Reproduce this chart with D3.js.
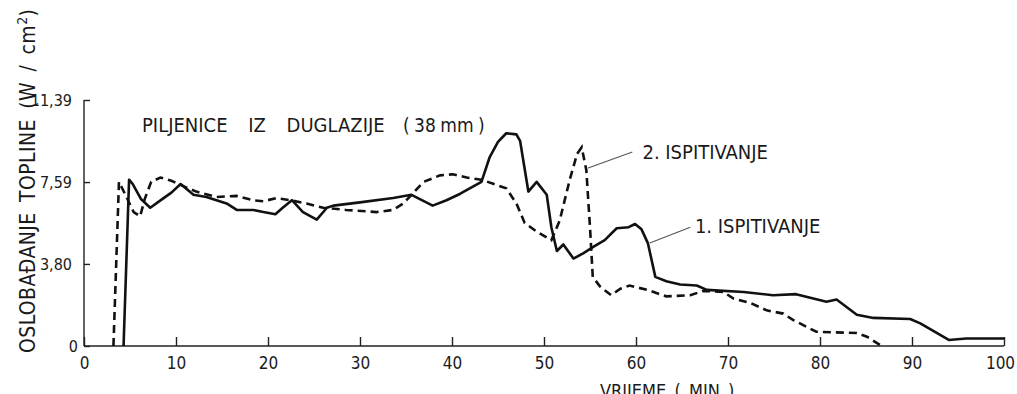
<!DOCTYPE html>
<html lang="hr">
<head>
<meta charset="UTF-8">
<title>Piljenice iz duglazije</title>
<script src="https://d3js.org/d3.v7.min.js"></script>
<style>
  body, html { margin: 0; padding: 0; background: #fff; }
  svg text {
    font-family: "DejaVu Sans Condensed", "Liberation Sans Narrow", "DejaVu Sans", sans-serif;
    font-stretch: condensed;
    fill: #1a1a1a;
  }
  .axis path, .axis line { stroke: #222; stroke-width: 1.4px; }
  .axis text { font-size: 17px; }
  .axis.y text { font-size: 16px; }
</style>
</head>
<body>
<div id="chart"></div>
<script>
// 1. ispitivanje (solid)
const time1 = [4.3, 4.9, 5.3, 6.2, 7.2, 8.5, 9.5, 10.5, 11.9, 13.3, 15.5, 16.6, 18.4, 19.5, 20.8, 21.6, 22.6,
  23.8, 25.3, 26.4, 27.1, 30, 33.6, 35.6, 37.9, 39.4, 40.9, 43.2, 44.1, 45.0, 45.9, 47.0, 47.4, 48.3, 49.2,
  50.3, 50.8, 51.4, 52.1, 53.2, 54.3, 55.4, 56.6, 57.9, 59.2, 59.9, 60.6, 61.3, 62.1, 63.3, 64.8, 66.6, 67.7,
  71.7, 74.9, 77.4, 80.7, 81.8, 84, 85.8, 89.8, 90.9, 94, 95.9, 100];
const heat1 = [0, 7.7, 7.5, 6.8, 6.4, 6.8, 7.1, 7.5, 7.0, 6.9, 6.6, 6.3, 6.3, 6.2, 6.1, 6.4, 6.75,
  6.2, 5.85, 6.4, 6.5, 6.65, 6.85, 7.0, 6.5, 6.75, 7.05, 7.6, 8.75, 9.45, 9.85, 9.8, 9.5, 7.15, 7.6,
  7.0, 5.5, 4.4, 4.7, 4.05, 4.3, 4.6, 4.9, 5.45, 5.5, 5.65, 5.4, 4.75, 3.2, 3.0, 2.85, 2.8, 2.6,
  2.5, 2.35, 2.4, 2.05, 2.15, 1.45, 1.3, 1.25, 1.05, 0.28, 0.35, 0.35];

// 2. ispitivanje (dashed)
const time2 = [3.2, 3.8, 4.5, 5.4, 6.1, 6.6, 7.3, 8.3, 9.5, 10.8, 12.2, 14.4, 16.6, 18.4, 19.5, 20.9, 22.4,
  24.2, 26, 28.5, 31.8, 33.6, 34.7, 35.6, 36.9, 38.7, 40.1, 41.6, 43.2, 45.9, 47.0, 47.9, 49.2, 50.8, 51.7,
  52.8, 53.6, 54.1, 54.6, 55.0, 55.3, 56.1, 57.3, 58.3, 59.3, 61.2, 63.3, 65.9, 67.3, 69.5, 70.6, 72.4,
  74.2, 76, 77.1, 79.6, 84, 85.1, 86.7];
const heat2 = [0, 7.6, 7.0, 6.2, 6.0, 6.8, 7.6, 7.8, 7.65, 7.4, 7.15, 6.9, 6.95, 6.75, 6.7, 6.85, 6.75,
  6.6, 6.4, 6.3, 6.2, 6.3, 6.6, 7.0, 7.6, 7.9, 7.95, 7.8, 7.7, 7.3, 6.6, 5.7, 5.3, 4.9, 5.8,
  7.7, 8.9, 9.2, 8.15, 5.5, 3.2, 2.75, 2.35, 2.65, 2.8, 2.6, 2.3, 2.35, 2.55, 2.5, 2.2, 2.0,
  1.65, 1.5, 1.2, 0.66, 0.6, 0.43, 0];

const xTicks = [0, 10, 20, 30, 40, 50, 60, 70, 80, 90, 100];
const yTicks = [0, 3.80, 7.59, 11.39];

const width = 1017, height = 394;
const margin = {top: 100, right: 13, bottom: 48, left: 84};

const svg = d3.select("#chart").append("svg")
  .attr("width", width)
  .attr("height", height);

const x = d3.scaleLinear().domain([0, 100]).range([margin.left, width - margin.right]);
const y = d3.scaleLinear().domain([0, 11.39]).range([height - margin.bottom, margin.top]);

const fmt = d => d === 0 ? "0" : d.toFixed(2).replace(".", ",");

svg.append("g")
  .attr("class", "axis x")
  .attr("transform", `translate(0,${y(0)})`)
  .call(d3.axisBottom(x).tickValues(xTicks).tickSizeInner(-9).tickSizeOuter(0).tickPadding(11))
  .call(g => g.select(".domain").attr("d", `M${x(0)},0H${x(100)}`))
  .call(g => g.selectAll(".tick text").filter(d => d === 100).attr("dx", -4));

svg.append("g")
  .attr("class", "axis y")
  .attr("transform", `translate(${x(0)},0)`)
  .call(d3.axisLeft(y).tickValues(yTicks).tickFormat(fmt).tickSizeInner(-6).tickSizeOuter(0).tickPadding(12))
  .call(g => g.select(".domain").attr("d", `M0,${y(0)}V${y(11.39)}`))
  .call(g => g.selectAll(".tick text").filter(d => d === 0).attr("dx", 6));

const line = d3.line()
  .x(d => x(d[0]))
  .y(d => y(d[1]));

svg.append("path")
  .datum(d3.zip(time1, heat1))
  .attr("fill", "none")
  .attr("stroke", "#111")
  .attr("stroke-width", 2.6)
  .attr("stroke-linejoin", "round")
  .attr("d", line);

svg.append("path")
  .datum(d3.zip(time2, heat2))
  .attr("fill", "none")
  .attr("stroke", "#111")
  .attr("stroke-width", 2.6)
  .attr("stroke-dasharray", "8,5")
  .attr("d", line);

// leader lines + labels
svg.append("line")
  .attr("x1", x(54.8)).attr("y1", y(8.24))
  .attr("x2", x(59.6)).attr("y2", y(8.98))
  .attr("stroke", "#555").attr("stroke-width", 1.1);
svg.append("text")
  .attr("x", x(60.7)).attr("y", y(8.98) + 7)
  .attr("font-size", 20)
  .text("2. ISPITIVANJE");

svg.append("line")
  .attr("x1", x(61.5)).attr("y1", y(4.77))
  .attr("x2", x(65.9)).attr("y2", y(5.5))
  .attr("stroke", "#555").attr("stroke-width", 1.1);
svg.append("text")
  .attr("x", x(66.4)).attr("y", y(5.55) + 7)
  .attr("font-size", 20)
  .text("1. ISPITIVANJE");

// title
svg.append("text")
  .attr("x", 142).attr("y", 132)
  .attr("font-size", 20)
  .attr("word-spacing", 15)
  .text("PILJENICE IZ DUGLAZIJE");
svg.append("text")
  .attr("x", 403).attr("y", 132)
  .attr("font-size", 19)
  .attr("word-spacing", -1)
  .text("( 38 mm )");

// axis titles
svg.append("text")
  .attr("x", 600).attr("y", 397)
  .attr("font-size", 18)
  .attr("word-spacing", 3)
  .text("VRIJEME ( MIN )");

svg.append("text")
  .attr("transform", "translate(35,353) rotate(-90)")
  .attr("font-size", 21)
  .attr("letter-spacing", 0.4)
  .attr("word-spacing", 4)
  .html("OSLOBAĐANJE TOPLINE (W / cm<tspan dy='-8' font-size='14'>2</tspan><tspan dy='8'>)</tspan>");
</script>
</body>
</html>
